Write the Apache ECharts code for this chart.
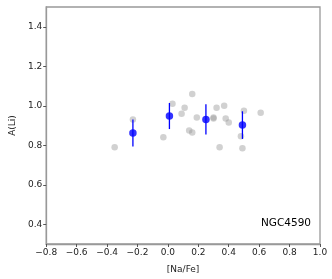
<!DOCTYPE html>
<html><head><meta charset="utf-8">
<script src="https://cdn.jsdelivr.net/npm/echarts@6/dist/echarts.min.js"></script>
<style>html,body{margin:0;padding:0;background:#fff}#c{width:332px;height:279px}</style>
</head><body><div id="c"></div>
<script>
var xTicks = [-0.8,-0.6,-0.4,-0.2,0.0,0.2,0.4,0.6,0.8,1.0];
var yTicks = [0.4,0.6,0.8,1.0,1.2,1.4];
var grayX = [-0.35,-0.23,-0.03,0.03,0.16,0.11,0.09,0.19,0.14,0.16,0.32,0.37,0.30,0.30,0.38,0.40,0.34,0.50,0.61,0.48,0.49];
var grayY = [0.79,0.93,0.84,1.01,1.06,0.99,0.96,0.94,0.875,0.865,0.99,1.00,0.935,0.94,0.935,0.915,0.79,0.975,0.965,0.845,0.785];
var meanX = [-0.23,0.01,0.25,0.49];
var meanY = [0.862,0.948,0.931,0.902];
var errY = [0.068,0.066,0.076,0.07];
var label = 'NGC4590';

var grayData = grayX.map(function(x,i){return [x,grayY[i]];});
var meanData = meanX.map(function(x,i){return [x,meanY[i],errY[i]];});
var font = 'DejaVu Sans';
var chart = echarts.init(document.getElementById('c'));
chart.setOption({
  animation:false,
  grid:{left:36,right:12,top:7,bottom:32,show:true,borderColor:'#999',borderWidth:1.3},
  xAxis:{type:'value',min:-0.8,max:1.0,interval:0.2,
    name:'[Na/Fe]',nameLocation:'middle',nameGap:21,nameTextStyle:{fontFamily:font,fontSize:9,color:'#222'},
    axisLine:{show:true,onZero:false,lineStyle:{color:'#999',width:1.3}},
    axisTick:{show:true,inside:false,length:3,lineStyle:{color:'#555'}},
    axisLabel:{fontFamily:font,fontSize:9,color:'#222',margin:4,formatter:function(v){return (v<0?'\u2212':'')+Math.abs(v).toFixed(1);}},
    splitLine:{show:false}},
  yAxis:{type:'value',min:0.3,max:1.5,
    name:'A(Li)',nameLocation:'middle',nameGap:25,nameTextStyle:{fontFamily:font,fontSize:9,color:'#222'},
    axisLine:{show:true,onZero:false,lineStyle:{color:'#999',width:1.3}},
    axisTick:{show:true,length:3,customValues:yTicks,lineStyle:{color:'#555'}},
    axisLabel:{fontFamily:font,fontSize:9,color:'#222',margin:4,customValues:yTicks,formatter:function(v){return v.toFixed(1);}},
    splitLine:{show:false}},
  series:[
    {type:'scatter',data:grayData,symbolSize:6.5,itemStyle:{color:'rgba(150,150,150,0.55)'},z:2},
    {type:'custom',data:meanData,z:3,renderItem:function(params,api){
      var x=api.value(0),y=api.value(1),e=api.value(2);
      var p1=api.coord([x,y+e]),p2=api.coord([x,y-e]);
      return {type:'line',shape:{x1:p1[0],y1:p1[1],x2:p2[0],y2:p2[1]},style:{stroke:'#0000ff',lineWidth:1.3}};
    }},
    {type:'scatter',data:meanData,symbolSize:7.5,itemStyle:{color:'#0000ff'},z:4}
  ],
  graphic:[{type:'text',right:21,top:218,style:{text:label,fontFamily:font,fontSize:10.5,fill:'#000'}}]
});
</script></body></html>
